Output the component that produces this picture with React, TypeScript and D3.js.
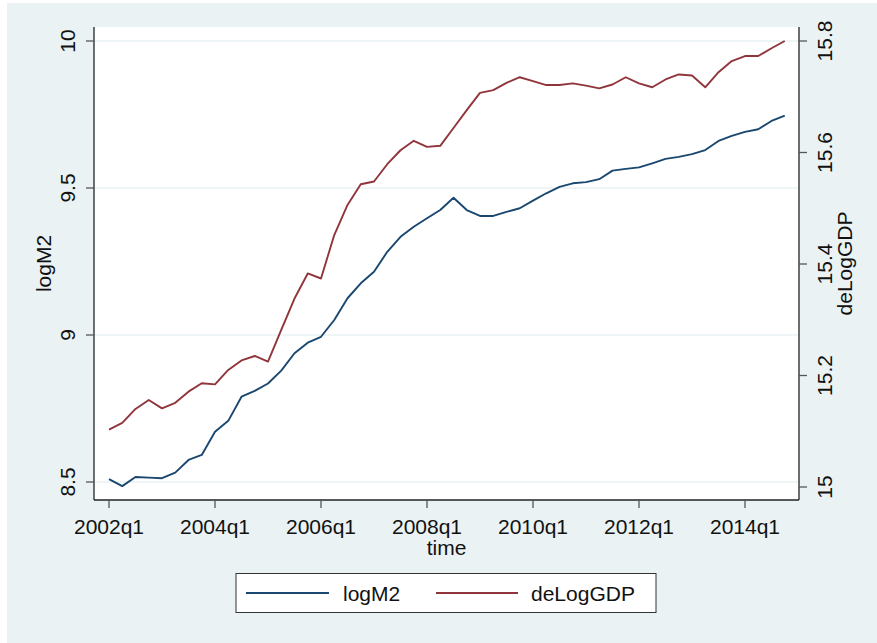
import React from "react";
import * as d3 from "d3";

const years = [2002, 2003, 2004, 2005, 2006, 2007, 2008, 2009, 2010, 2011, 2012, 2013, 2014];
const quarterNames = ["q1", "q2", "q3", "q4"];
const quarters: string[] = years.flatMap((y) => quarterNames.map((q) => `${y}${q}`));

const logM2 = [
  8.510, 8.486, 8.517, 8.515, 8.513, 8.532, 8.575, 8.592, 8.671, 8.708, 8.790, 8.810, 8.835,
  8.879, 8.938, 8.974, 8.994, 9.051, 9.125, 9.176, 9.215, 9.283, 9.334, 9.368, 9.397, 9.425,
  9.467, 9.425, 9.405, 9.405, 9.419, 9.431, 9.457, 9.482, 9.504, 9.516, 9.520, 9.530, 9.559,
  9.565, 9.570, 9.584, 9.599, 9.606, 9.615, 9.629, 9.660, 9.677, 9.691, 9.700, 9.728, 9.746,
];

const deLogGDP = [
  15.103, 15.115, 15.140, 15.156, 15.141, 15.151, 15.171, 15.186, 15.184, 15.210, 15.227, 15.235, 15.225,
  15.282, 15.338, 15.383, 15.374, 15.452, 15.506, 15.543, 15.548, 15.579, 15.604,
  15.621, 15.610, 15.612, 15.644, 15.676, 15.707, 15.712, 15.725, 15.735, 15.728,
  15.721, 15.721, 15.724, 15.720, 15.715, 15.722, 15.735, 15.724, 15.717, 15.731,
  15.740, 15.738, 15.717, 15.744, 15.764, 15.773, 15.773, 15.787, 15.800,
];

const xTickLabels = ["2002q1", "2004q1", "2006q1", "2008q1", "2010q1", "2012q1", "2014q1"];
const leftTicks = [8.5, 9, 9.5, 10];
const rightTicks = [15, 15.2, 15.4, 15.6, 15.8];
const seriesNames = ["logM2", "deLogGDP"];

const W = 877;
const H = 643;
const FONT = "'Liberation Sans', Arial, Helvetica, sans-serif";
const BLUE = "#1a476f";
const RED = "#90353b";
const BG = "#eaf2f3";

export default function App() {
  const plot = { left: 94, right: 799, top: 27, bottom: 500 };
  const x = d3.scaleLinear().domain([0, quarters.length - 1]).range([109, 784.75]);
  const yL = d3.scaleLinear().domain([8.5, 10]).range([482, 41]);
  const yR = d3.scaleLinear().domain([15, 15.8]).range([487, 41]);

  const lineL = d3.line<number>().x((_, i) => x(i)).y((d) => yL(d));
  const lineR = d3.line<number>().x((_, i) => x(i)).y((d) => yR(d));

  const fmtL = (v: number) => (Number.isInteger(v) ? String(v) : v.toFixed(1));
  const fmtR = (v: number) => (Math.abs(v - Math.round(v)) < 1e-9 ? String(Math.round(v)) : v.toFixed(1));

  return (
    <svg
      width={W}
      height={H}
      style={{ position: "absolute", left: 0, top: 0 }}
      fontFamily={FONT}
    >
      <rect x={0} y={0} width={W} height={H} fill="#ffffff" />
      <rect x={7} y={3} width={W - 7} height={H - 3} fill={BG} />
      <rect
        x={plot.left}
        y={plot.top}
        width={plot.right - plot.left}
        height={plot.bottom - plot.top}
        fill="#ffffff"
      />

      {/* gridlines */}
      {leftTicks.map((t) => (
        <line
          key={"g" + t}
          x1={plot.left}
          x2={plot.right}
          y1={yL(t)}
          y2={yL(t)}
          stroke={BG}
          strokeWidth={1.6}
        />
      ))}

      {/* series */}
      <path d={lineL(logM2) || ""} fill="none" stroke={BLUE} strokeWidth={1.9} strokeLinejoin="round" />
      <path d={lineR(deLogGDP) || ""} fill="none" stroke={RED} strokeWidth={1.9} strokeLinejoin="round" />

      {/* axes lines */}
      <line x1={plot.left} x2={plot.left} y1={plot.top} y2={plot.bottom} stroke="#222" strokeWidth={1.3} />
      <line x1={plot.right} x2={plot.right} y1={plot.top} y2={plot.bottom} stroke="#222" strokeWidth={1.3} />
      <line x1={plot.left} x2={plot.right} y1={plot.bottom} y2={plot.bottom} stroke="#222" strokeWidth={1.3} />

      {/* left axis */}
      {leftTicks.map((t) => (
        <g key={"l" + t}>
          <line x1={plot.left - 8} x2={plot.left} y1={yL(t)} y2={yL(t)} stroke="#555" strokeWidth={1.3} />
          <text
            transform={`translate(75,${yL(t)}) rotate(-90)`}
            textAnchor="middle"
            fontSize={21}
            fill="#111"
          >
            {fmtL(t)}
          </text>
        </g>
      ))}
      <text
        transform={`translate(51,${(plot.top + plot.bottom) / 2}) rotate(-90)`}
        textAnchor="middle"
        fontSize={21}
        fill="#111"
      >
        {seriesNames[0]}
      </text>

      {/* right axis */}
      {rightTicks.map((t) => (
        <g key={"r" + t}>
          <line x1={plot.right} x2={plot.right + 8} y1={yR(t)} y2={yR(t)} stroke="#555" strokeWidth={1.3} />
          <text
            transform={`translate(832,${yR(t)}) rotate(-90)`}
            textAnchor="middle"
            fontSize={21}
            fill="#111"
          >
            {fmtR(t)}
          </text>
        </g>
      ))}
      <text
        transform={`translate(852,${(plot.top + plot.bottom) / 2}) rotate(-90)`}
        textAnchor="middle"
        fontSize={21}
        fill="#111"
      >
        {seriesNames[1]}
      </text>

      {/* bottom axis */}
      {xTickLabels.map((lab) => {
        const i = quarters.indexOf(lab);
        return (
          <g key={lab}>
            <line x1={x(i)} x2={x(i)} y1={plot.bottom} y2={plot.bottom + 8} stroke="#555" strokeWidth={1.3} />
            <text x={x(i)} y={534} textAnchor="middle" fontSize={21} fill="#111">
              {lab}
            </text>
          </g>
        );
      })}
      <text x={(plot.left + plot.right) / 2} y={555} textAnchor="middle" fontSize={21} fill="#111">
        time
      </text>

      {/* legend */}
      <rect x={236} y={573.5} width={420} height={39} fill="#ffffff" stroke="#333" strokeWidth={1} />
      <line x1={246} x2={329} y1={593} y2={593} stroke={BLUE} strokeWidth={1.9} />
      <text x={343} y={601} fontSize={21} fill="#111">
        {seriesNames[0]}
      </text>
      <line x1={436} x2={518} y1={593} y2={593} stroke={RED} strokeWidth={1.9} />
      <text x={531} y={601} fontSize={21} fill="#111">
        {seriesNames[1]}
      </text>
    </svg>
  );
}
